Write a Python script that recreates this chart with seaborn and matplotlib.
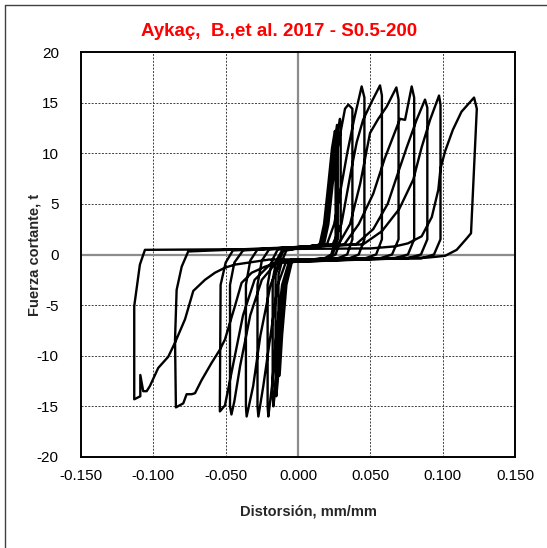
import matplotlib
matplotlib.use("Agg")
import matplotlib.pyplot as plt
import seaborn as sns
import pandas as pd
from matplotlib.lines import Line2D

# Positive half cycles (loading up to the peak, then unloading), distortion mm/mm
pos_x = [
    [0.015, 0.018, 0.021, 0.0235, 0.0255, 0.026, 0.026, 0.023, 0.018],
    [0.016, 0.019, 0.022, 0.025, 0.027, 0.0275, 0.0275, 0.024, 0.019],
    [0.017, 0.020, 0.023, 0.026, 0.029, 0.0295, 0.0295, 0.026, 0.020],
    [0.018, 0.021, 0.024, 0.028, 0.0325, 0.0348, 0.0376, 0.0376, 0.034, 0.027],
    [0.020, 0.025, 0.029, 0.034, 0.039, 0.044, 0.0459, 0.0459, 0.042, 0.035],
    [0.024, 0.030, 0.037, 0.0406, 0.045, 0.051, 0.0567, 0.058, 0.058, 0.054, 0.046],
    [0.028, 0.036, 0.043, 0.0498, 0.0555, 0.0613, 0.068, 0.0695, 0.0695, 0.065, 0.056],
    [0.032, 0.042, 0.052, 0.060, 0.0705, 0.074, 0.0786, 0.0803, 0.0803, 0.076, 0.066],
    [0.040, 0.052, 0.062, 0.069, 0.0752, 0.082, 0.0878, 0.0894, 0.0894, 0.085, 0.075],
    [0.045, 0.058, 0.070, 0.0797, 0.0855, 0.0913, 0.0975, 0.0985, 0.0985, 0.094, 0.085],
    [0.050, 0.067, 0.076, 0.0855, 0.0925, 0.097, 0.0985, 0.1017, 0.107, 0.113, 0.1217,
     0.1236, 0.1196, 0.1167, 0.1097, 0.1017, 0.090, -0.005],
]
pos_y = [
    [1.0, 3.0, 7.0, 10.5, 12.2, 11.5, 1.5, 0.0, -0.4],
    [1.0, 3.0, 7.0, 11.0, 12.8, 12.0, 1.5, 0.0, -0.4],
    [1.0, 3.0, 7.0, 11.0, 13.4, 12.5, 1.5, 0.0, -0.4],
    [1.0, 3.0, 7.0, 11.0, 14.4, 14.8, 14.4, 1.5, 0.0, -0.4],
    [1.0, 3.0, 6.0, 10.0, 13.5, 16.6, 15.5, 1.5, 0.0, -0.4],
    [1.0, 3.0, 8.5, 11.1, 13.3, 15.1, 16.7, 15.7, 1.5, 0.0, -0.4],
    [1.0, 3.0, 7.0, 12.0, 13.4, 14.6, 16.5, 15.3, 1.5, 0.0, -0.4],
    [1.0, 3.0, 6.0, 9.5, 13.4, 13.3, 16.6, 15.5, 1.5, 0.0, -0.4],
    [1.0, 2.5, 5.0, 8.0, 10.6, 13.3, 15.3, 14.5, 1.5, 0.0, -0.4],
    [1.0, 2.3, 4.5, 7.4, 10.6, 13.3, 15.7, 14.8, 1.5, 0.0, -0.4],
    [0.6, 0.8, 1.1, 1.8, 3.7, 6.4, 8.5, 10.2, 12.3, 14.1, 15.5,
     14.4, 2.1, 1.6, 0.46, -0.13, -0.3, -0.5],
]

# Negative half cycles
neg_x = [
    [-0.004, -0.008, -0.011, -0.0125, -0.013, -0.0135, -0.0135, -0.011, -0.008],
    [-0.005, -0.009, -0.012, -0.014, -0.015, -0.0155, -0.0155, -0.013, -0.010],
    [-0.005, -0.010, -0.013, -0.0155, -0.017, -0.0175, -0.0175, -0.015, -0.011],
    [-0.006, -0.011, -0.015, -0.018, -0.0205, -0.021, -0.021, -0.018, -0.014],
    [-0.008, -0.014, -0.019, -0.024, -0.0274, -0.028, -0.028, -0.025, -0.020],
    [-0.012, -0.019, -0.026, -0.031, -0.0355, -0.036, -0.036, -0.033, -0.028],
    [-0.015, -0.025, -0.033, -0.040, -0.044, -0.046, -0.047, -0.047, -0.044, -0.038],
    [-0.018, -0.030, -0.038, -0.045, -0.0505, -0.054, -0.054, -0.0535, -0.050, -0.045],
    [-0.010, -0.0228, -0.032, -0.039, -0.0436, -0.0505, -0.054, -0.0597, -0.0666, -0.0712,
     -0.0735, -0.077, -0.0793, -0.0844, -0.085, -0.0839, -0.0804, -0.0759],
    [-0.020, -0.0436, -0.0505, -0.0574, -0.0643, -0.0724, -0.0781, -0.085, -0.0897, -0.0966,
     -0.1024, -0.1046, -0.107, -0.109, -0.109, -0.1132, -0.1132, -0.1093, -0.1058],
]
neg_y = [
    [-0.6, -3.0, -8.0, -11.5, -12.0, -11.0, -2.0, -0.6, 0.4],
    [-0.6, -3.0, -8.0, -12.5, -14.0, -13.0, -2.0, -0.6, 0.4],
    [-0.6, -3.0, -8.0, -13.0, -15.0, -14.0, -2.5, -0.6, 0.4],
    [-0.6, -3.0, -8.0, -13.0, -16.0, -15.0, -3.0, -0.6, 0.5],
    [-0.6, -3.0, -8.0, -13.0, -16.0, -15.0, -3.0, -0.6, 0.5],
    [-0.7, -3.0, -8.0, -13.0, -16.0, -15.0, -3.0, -0.6, 0.5],
    [-0.8, -2.5, -6.0, -11.0, -14.5, -15.8, -15.0, -3.0, -0.8, 0.4],
    [-0.8, -2.5, -6.0, -11.0, -14.9, -15.5, -14.5, -3.0, -0.8, 0.4],
    [-0.6, -1.2, -1.8, -2.8, -5.1, -8.4, -9.4, -10.7, -12.4, -13.7,
     -13.8, -13.8, -14.7, -15.1, -8.4, -3.5, -1.2, 0.3],
    [-0.5, -1.0, -1.3, -1.8, -2.5, -3.6, -6.4, -8.7, -10.1, -11.2,
     -13.0, -13.5, -13.5, -11.9, -14.0, -14.3, -5.1, -1.0, 0.46],
]

x_ticks = [-0.150, -0.100, -0.050, 0.000, 0.050, 0.100, 0.150]
y_ticks = [-20, -15, -10, -5, 0, 5, 10, 15, 20]

# Build the load history: positive cycle, negative cycle, ... , last positive
hist_x, hist_y = [], []
for i in range(len(pos_x)):
    hist_x += pos_x[i]
    hist_y += pos_y[i]
    if i < len(neg_x):
        hist_x += neg_x[i]
        hist_y += neg_y[i]
df = pd.DataFrame({"distorsion": hist_x, "fuerza": hist_y})

sns.set_style("white")
plt.rcParams["font.family"] = ["Liberation Sans", "DejaVu Sans"]

fig = plt.figure(figsize=(5.47, 5.48), dpi=100)
ax = fig.add_axes([81 / 547, 1 - 457 / 548, 434 / 547, 405 / 548])

# Grid: dashed, solid gray at zero
for xv in x_ticks[1:-1]:
    if xv == 0:
        ax.axvline(0, color="#8c8c8c", lw=1.6, zorder=1)
    else:
        ax.axvline(xv, color="#404040", lw=0.7, ls=(0, (2, 1.5)), zorder=1)
for yv in y_ticks[1:-1]:
    if yv == 0:
        ax.axhline(0, color="#8c8c8c", lw=1.6, zorder=1)
    else:
        ax.axhline(yv, color="#404040", lw=0.7, ls=(0, (2, 1.5)), zorder=1)

sns.lineplot(data=df, x="distorsion", y="fuerza", sort=False, estimator=None,
             color="black", linewidth=1.7, ax=ax, zorder=3)

ax.set_xlim(-0.15, 0.15)
ax.set_ylim(-20, 20)
ax.set_xticks(x_ticks)
ax.set_xticklabels([f"{v:.3f}" for v in x_ticks])
ax.set_yticks(y_ticks)
ax.set_yticklabels([str(v) for v in y_ticks])
ax.tick_params(axis="both", length=0, labelsize=11, colors="black")
ax.tick_params(axis="x", pad=9)
ax.tick_params(axis="y", pad=16)

for sp in ax.spines.values():
    sp.set_color("black")
    sp.set_linewidth(1.4)

ax.set_xlabel("Distorsión, mm/mm", fontsize=10.5, fontweight="bold")
ax.set_ylabel("Fuerza cortante, t", fontsize=10.5, fontweight="bold")
ax.xaxis.set_label_coords(0.523, -0.118)
ax.yaxis.set_label_coords(-0.09, 0.5)

fig.text(279 / 547, 1 - 31 / 548, "Aykaç,  B.,et al. 2017 - S0.5-200", color="red",
         fontsize=13.5, fontweight="bold", ha="center", va="center")

# Outer chart frame (top and left edges)
fig.add_artist(Line2D([5 / 547, 1.0], [1 - 5 / 548, 1 - 5 / 548], color="#404040", lw=1.0))
fig.add_artist(Line2D([5 / 547, 5 / 547], [0.0, 1 - 5 / 548], color="#404040", lw=1.0))

fig.savefig("out.png", dpi=100)
